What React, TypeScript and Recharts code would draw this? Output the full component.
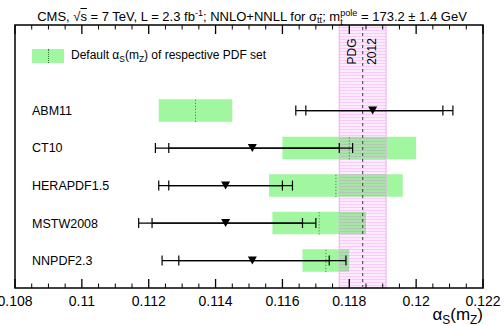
import { ScatterChart, Scatter, XAxis, YAxis, ErrorBar, ReferenceArea, ReferenceLine } from 'recharts';

// PDF sets, top to bottom, and their row position on the hidden y scale
const pdfSets = ['ABM11', 'CT10', 'HERAPDF1.5', 'MSTW2008', 'NNPDF2.3'];
const rowPos = [5, 4, 3, 2, 1];

// default alpha_s(mZ) of each PDF set and its uncertainty (green boxes)
const defaultAlphaS = [0.1134, 0.118, 0.1176, 0.1171, 0.1173];
const defaultUnc = [0.0011, 0.002, 0.002, 0.0014, 0.0007];

// extracted alpha_s(mZ) (triangles) with inner / outer uncertainty edges
const extracted = [0.1187, 0.1151, 0.1143, 0.1143, 0.1151];
const innerLow = [0.1167, 0.1126, 0.1126, 0.1121, 0.1129];
const innerHigh = [0.1208, 0.1177, 0.116, 0.1166, 0.1174];
const outerLow = [0.1164, 0.1122, 0.1123, 0.1117, 0.1124];
const outerHigh = [0.1211, 0.1181, 0.1163, 0.117, 0.1179];

// PDG 2012 world average
const pdgAlphaS = 0.1184;
const pdgUnc = 0.0007;

const xTicks = [0.108, 0.11, 0.112, 0.114, 0.116, 0.118, 0.12, 0.122];
const minorTicks = [
    0.1085, 0.109, 0.1095, 0.1105, 0.111, 0.1115, 0.1125, 0.113, 0.1135, 0.1145,
    0.115, 0.1155, 0.1165, 0.117, 0.1175, 0.1185, 0.119, 0.1195, 0.1205, 0.121, 0.1215,
];

const X_DOMAIN: [number, number] = [0.108, 0.122];
const Y_DOMAIN: [number, number] = [0.27, 7.28];
const BOX_HALF = 0.3;
const FONT = '"Liberation Sans", Arial, Helvetica, sans-serif';
const GREEN = '#a0f7a0';
const DOT_GREEN = '#2f7a2f';

const rows = pdfSets.map((name, i) => ({
    name,
    y: rowPos[i],
    x: extracted[i],
    errOuter: [extracted[i] - outerLow[i], outerHigh[i] - extracted[i]],
    errInner: [extracted[i] - innerLow[i], innerHigh[i] - extracted[i]],
}));

// frame box with inward ticks on the top and bottom edges (ROOT style)
const Frame = (props: any) => {
    const x = Number(props.x);
    const y = Number(props.y);
    const w = Number(props.width);
    const h = Number(props.height);
    const px = (t: number) => x + (w * (t - X_DOMAIN[0])) / (X_DOMAIN[1] - X_DOMAIN[0]);
    const tickPath = (ticks: number[], len: number) =>
        ticks.map((t) => `M${px(t)},${y + h}V${y + h - len}M${px(t)},${y}V${y + len}`).join('');
    return (
        <g className="frame">
            <path d={tickPath(minorTicks, 4.5)} stroke="#000" strokeWidth={1} fill="none" />
            <path d={tickPath(xTicks, 9)} stroke="#000" strokeWidth={1.3} fill="none" />
            <rect x={x} y={y} width={w} height={h} fill="none" stroke="#000" strokeWidth={1.5} />
        </g>
    );
};

const DownTriangle = (props: any) => {
    const { cx, cy } = props;
    if (cx == null || cy == null) return null;
    return <polygon points={`${cx - 4.5},${cy - 4} ${cx + 4.5},${cy - 4} ${cx},${cy + 4}`} fill="#000" />;
};

const PdgBand = (props: any) => {
    const { x, y, width, height } = props;
    const mid = x + width / 2;
    return (
        <g>
            <defs>
                <pattern id="pdgHatch" patternUnits="userSpaceOnUse" width="4" height="3">
                    <rect width="4" height="3" fill="rgba(255,0,255,0.08)" />
                    <line x1="0" y1="0.5" x2="4" y2="0.5" stroke="rgba(225,90,225,0.22)" strokeWidth="1" />
                </pattern>
            </defs>
            <rect x={x} y={y} width={width} height={height} fill="url(#pdgHatch)" stroke="#eeaaee" strokeWidth={1} />
            <text x={mid - 10.5} y={y + 26.5} transform={`rotate(-90 ${mid - 10.5} ${y + 26.5})`}
                textAnchor="middle" dominantBaseline="central" fontSize={12} fontFamily={FONT} fill="#000">PDG</text>
            <text x={mid + 9.5} y={y + 26.5} transform={`rotate(-90 ${mid + 9.5} ${y + 26.5})`}
                textAnchor="middle" dominantBaseline="central" fontSize={12} fontFamily={FONT} fill="#000">2012</text>
        </g>
    );
};

const sub = { fontSize: '0.7em', verticalAlign: '-0.3em' } as const;
const sup = { fontSize: '0.7em', verticalAlign: '0.5em' } as const;

export default function App() {
    return (
        <div style={{ position: 'absolute', left: 0, top: 0, width: 504, height: 326, fontFamily: FONT, background: '#fff' }}>
            <ScatterChart width={504} height={326} margin={{ top: 25, right: 21, bottom: 8, left: 15 }}>
                <XAxis xAxisId="main" type="number" dataKey="x" domain={X_DOMAIN} ticks={xTicks} allowDataOverflow interval={0}
                    height={30} tickLine={false} axisLine={false} tickSize={8} tickMargin={0}
                    tick={{ fontSize: 14, fill: '#000', fontFamily: FONT }}
                    tickFormatter={(v: number) => String(v)} />
                <YAxis type="number" dataKey="y" domain={Y_DOMAIN} ticks={rowPos} allowDataOverflow interval={0}
                    mirror width={1} axisLine={false} tickLine={false} tickSize={0} tickMargin={17}
                    tick={{ fontSize: 12.5, fill: '#000', fontFamily: FONT }}
                    tickFormatter={(v: number) => pdfSets[rowPos.indexOf(v)] ?? ''} />

                {pdfSets.map((name, i) => (
                    <ReferenceArea key={`box-${name}`} xAxisId="main"
                        x1={defaultAlphaS[i] - defaultUnc[i]} x2={defaultAlphaS[i] + defaultUnc[i]}
                        y1={rowPos[i] - BOX_HALF} y2={rowPos[i] + BOX_HALF}
                        fill={GREEN} fillOpacity={1} stroke="none" ifOverflow="visible" />
                ))}

                <ReferenceArea xAxisId="main" x1={pdgAlphaS - pdgUnc} x2={pdgAlphaS + pdgUnc}
                    y1={Y_DOMAIN[0]} y2={Y_DOMAIN[1]} shape={<PdgBand />} ifOverflow="visible" />
                <ReferenceLine xAxisId="main" x={pdgAlphaS} stroke="#555" strokeWidth={1.2} strokeDasharray="3 3" />

                {pdfSets.map((name, i) => (
                    <ReferenceLine key={`c-${name}`} xAxisId="main"
                        segment={[{ x: defaultAlphaS[i], y: rowPos[i] - BOX_HALF }, { x: defaultAlphaS[i], y: rowPos[i] + BOX_HALF }]}
                        stroke={DOT_GREEN} strokeWidth={1} strokeDasharray="1 2" />
                ))}

                <Scatter xAxisId="main" data={rows} shape={<DownTriangle />} isAnimationActive={false}>
                    <ErrorBar dataKey="errOuter" direction="x" width={5} stroke="#000" strokeWidth={1.2} isAnimationActive={false} />
                    <ErrorBar dataKey="errInner" direction="x" width={5} stroke="#000" strokeWidth={1.2} isAnimationActive={false} />
                </Scatter>

                <ReferenceArea xAxisId="main" x1={X_DOMAIN[0]} x2={X_DOMAIN[1]} y1={Y_DOMAIN[0]} y2={Y_DOMAIN[1]}
                    shape={<Frame />} ifOverflow="visible" />
            </ScatterChart>

            {/* title */}
            <div style={{ position: 'absolute', left: 0, width: 504, top: 5, textAlign: 'center', fontSize: 13, whiteSpace: 'nowrap', lineHeight: '16px' }}>
                CMS, √<span style={{ textDecoration: 'overline' }}>s</span> = 7 TeV, L = 2.3 fb<span style={sup}>-1</span>; NNLO+NNLL for σ<span style={sub}>t<span style={{ textDecoration: 'overline' }}>t</span></span>; m
                <span style={{ position: 'relative', display: 'inline-block' }}>
                    <span style={{ fontSize: '0.7em', position: 'relative', top: '-0.55em' }}>pole</span>
                    <span style={{ fontSize: '0.7em', position: 'absolute', left: 0, top: '0.55em' }}>t</span>
                </span> = 173.2 ± 1.4 GeV
            </div>

            {/* legend */}
            <div style={{ position: 'absolute', left: 32, top: 49, width: 32, height: 14, background: GREEN }}>
                <div style={{ position: 'absolute', left: 15.5, top: 0, height: 14, borderLeft: `1px dotted ${DOT_GREEN}` }} />
            </div>
            <div style={{ position: 'absolute', left: 71, top: 48, fontSize: 12, whiteSpace: 'nowrap', lineHeight: '15px' }}>
                Default α<span style={sub}>S</span>(m<span style={sub}>Z</span>) of respective PDF set
            </div>

            {/* x axis title */}
            <div style={{ position: 'absolute', right: 21, top: 305, fontSize: 17, whiteSpace: 'nowrap', lineHeight: '20px' }}>
                α<span style={sub}>S</span>(m<span style={sub}>Z</span>)
            </div>
        </div>
    );
}
